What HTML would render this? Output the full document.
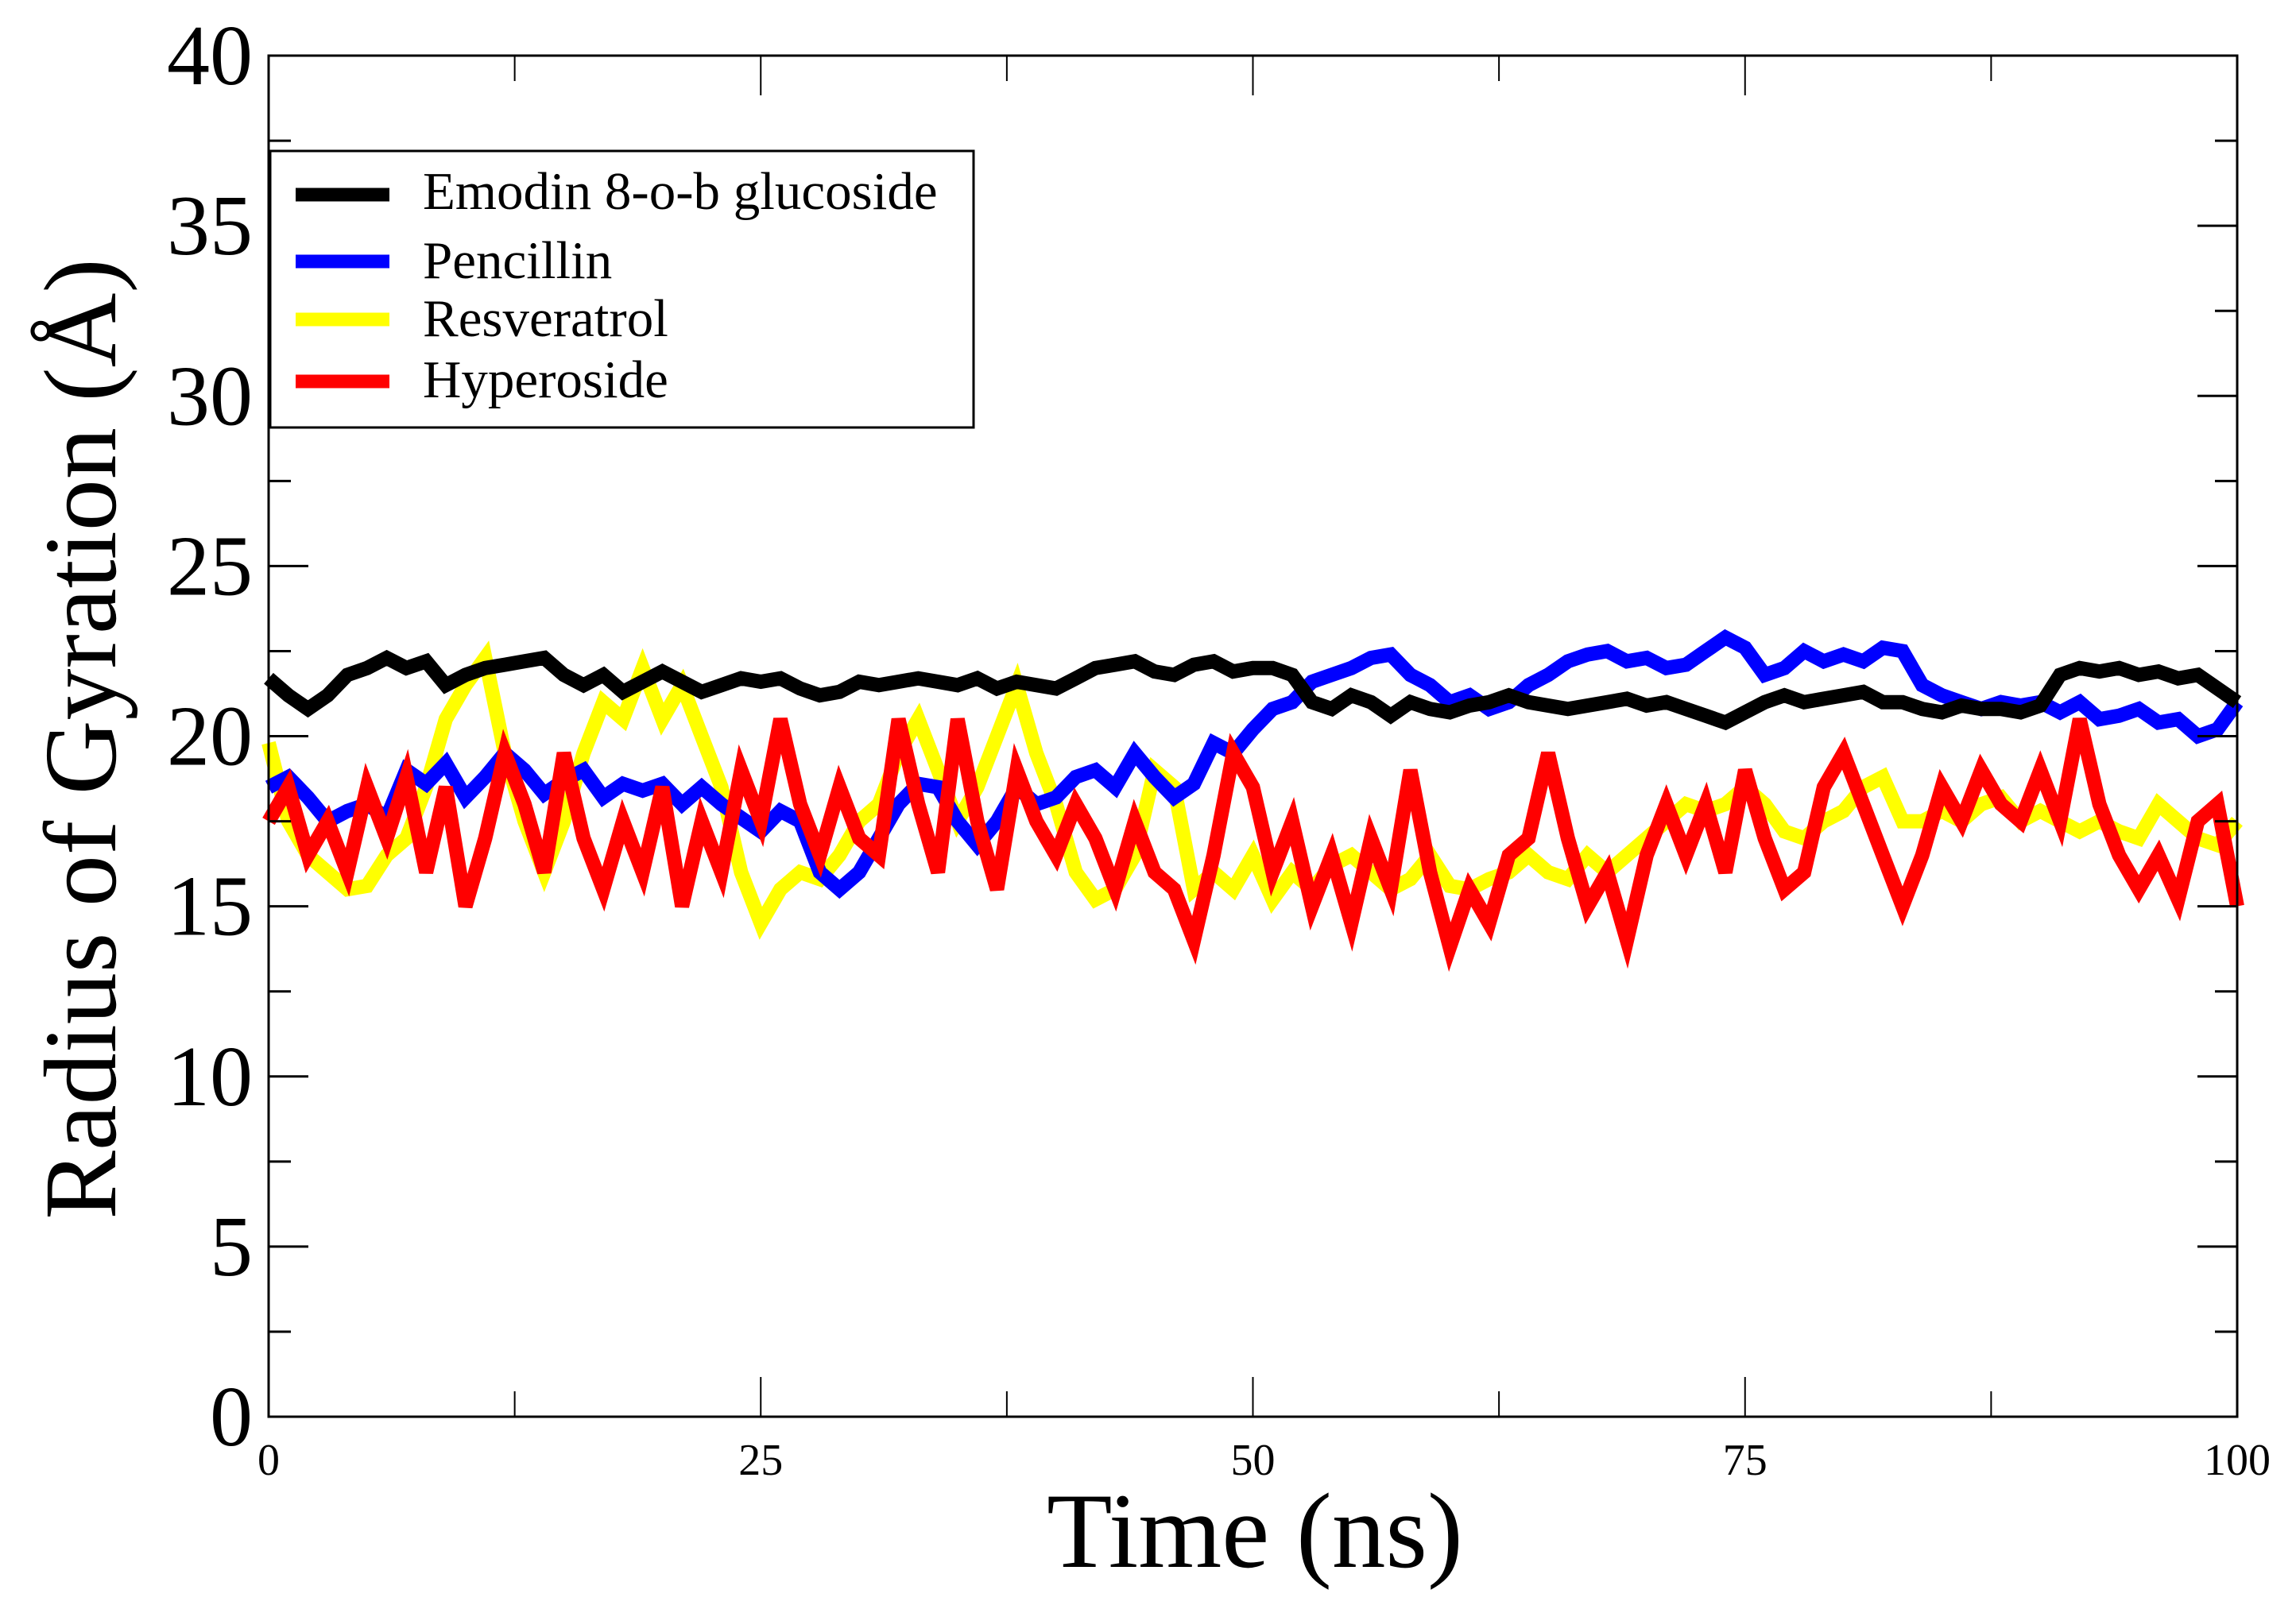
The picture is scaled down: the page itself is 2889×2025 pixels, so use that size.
<!DOCTYPE html>
<html><head><meta charset="utf-8"><style>
html,body{margin:0;padding:0;background:#fff;}
svg{display:block;font-family:"Liberation Serif",serif;}
</style></head><body>
<svg id="chart" width="2889" height="2025" viewBox="0 0 2889 2025" xmlns="http://www.w3.org/2000/svg">
<g id="series"></g>
<rect x="338" y="70" width="2477" height="1713" fill="none" stroke="#000" stroke-width="3"/>
<g id="axes"></g>
<text transform="translate(145,930) rotate(-90)" text-anchor="middle" font-size="130">Radius of Gyration (Å)</text>
<text x="1579" y="1972" text-anchor="middle" font-size="135">Time (ns)</text>
<g>
<rect x="340" y="190" width="885" height="348" fill="#fff" stroke="#000" stroke-width="3"/>
<line x1="372" y1="245" x2="490" y2="245" stroke="#000" stroke-width="17"/>
<text x="532" y="263" font-size="67">Emodin 8-o-b glucoside</text>
<line x1="372" y1="329" x2="490" y2="329" stroke="#0000ff" stroke-width="17"/>
<text x="532" y="350" font-size="67">Pencillin</text>
<line x1="372" y1="402" x2="490" y2="402" stroke="#ffff00" stroke-width="17"/>
<text x="532" y="423" font-size="67">Resveratrol</text>
<line x1="372" y1="480" x2="490" y2="480" stroke="#ff0000" stroke-width="17"/>
<text x="532" y="500" font-size="67">Hyperoside</text>
</g>
</svg>
<script>
const times = Array.from({length:101},(_,i)=>i);
const emodin = [21.7,21.2,20.8,21.2,21.8,22.0,22.3,22.0,22.2,21.5,21.8,22.0,22.1,22.2,22.3,21.8,21.5,21.8,21.3,21.6,21.9,21.6,21.3,21.5,21.7,21.6,21.7,21.4,21.2,21.3,21.6,21.5,21.6,21.7,21.6,21.5,21.7,21.4,21.6,21.5,21.4,21.7,22.0,22.1,22.2,21.9,21.8,22.1,22.2,21.9,22.0,22.0,21.8,21.0,20.8,21.2,21.0,20.6,21.0,20.8,20.7,20.9,21.0,21.2,21.0,20.9,20.8,20.9,21.0,21.1,20.9,21.0,20.8,20.6,20.4,20.7,21.0,21.2,21.0,21.1,21.2,21.3,21.0,21.0,20.8,20.7,20.9,20.8,20.8,20.7,20.9,21.8,22.0,21.9,22.0,21.8,21.9,21.7,21.8,21.4,21.0];
const pencillin = [18.5,18.8,18.2,17.5,17.8,18.0,17.6,19.0,18.6,19.2,18.2,18.8,19.5,19.0,18.3,18.7,19.0,18.2,18.6,18.4,18.6,18.0,18.5,18.0,17.6,17.2,17.8,17.5,16.0,15.5,16.0,17.0,18.0,18.6,18.5,17.5,16.8,17.5,18.5,18.0,18.2,18.8,19.0,18.5,19.5,18.8,18.2,18.6,19.8,19.5,20.2,20.8,21.0,21.6,21.8,22.0,22.3,22.4,21.8,21.5,21.0,21.2,20.8,21.0,21.5,21.8,22.2,22.4,22.5,22.2,22.3,22.0,22.1,22.5,22.9,22.6,21.8,22.0,22.5,22.2,22.4,22.2,22.6,22.5,21.5,21.2,21.0,20.8,21.0,20.9,21.0,20.7,21.0,20.5,20.6,20.8,20.4,20.5,20.0,20.2,21.0];
const resveratrol = [19.8,17.5,16.5,16.0,15.5,15.6,16.5,17.0,18.5,20.5,21.5,22.3,19.5,17.5,16.0,17.5,19.5,21.0,20.5,22.0,20.5,21.5,20.0,18.5,16.0,14.5,15.5,16.0,15.8,16.5,17.5,18.0,19.5,20.5,19.0,17.5,18.5,20.0,21.5,19.5,18.0,16.0,15.2,15.5,16.5,19.0,18.5,15.5,16.0,15.5,16.5,15.2,16.0,15.5,16.2,16.5,16.0,15.5,15.8,16.5,15.6,15.5,15.8,16.0,16.5,16.0,15.8,16.5,16.0,16.5,17.0,17.5,18.0,17.8,18.0,18.5,18.0,17.2,17.0,17.5,17.8,18.5,18.8,17.5,17.5,17.8,17.5,18.0,18.2,17.5,17.8,17.5,17.2,17.5,17.2,17.0,18.0,17.5,17.0,16.8,17.5];
const hyperoside = [17.5,18.5,16.5,17.5,16.0,18.5,17.0,18.8,16.0,18.5,15.0,17.0,19.5,18.0,16.0,19.5,17.0,15.5,17.5,16.0,18.5,15.0,17.5,16.0,19.0,17.5,20.5,18.0,16.5,18.5,17.0,16.5,20.5,18.0,16.0,20.5,17.5,15.5,19.0,17.5,16.5,18.0,17.0,15.5,17.5,16.0,15.5,14.0,16.5,19.5,18.5,16.0,17.5,15.0,16.5,14.5,17.0,15.5,19.0,16.0,13.8,15.5,14.5,16.5,17.0,19.5,17.0,15.0,16.0,14.0,16.5,18.0,16.5,18.0,16.0,19.0,17.0,15.5,16.0,18.5,19.5,18.0,16.5,15.0,16.5,18.5,17.5,19.0,18.0,17.5,19.0,17.5,20.5,18.0,16.5,15.5,16.5,15.2,17.5,18.0,15.0];
const xTickLabels = ["0","25","50","75","100"];
const yTickLabels = ["0","5","10","15","20","25","30","35","40"];

const X0=338,X1=2815,Y0=1783,Y1=70;
const xs = t => X0 + (t-0)/(100-0)*(X1-X0);
const ys = v => Y0 - (v-0)/(40-0)*(Y0-Y1);
const NS="http://www.w3.org/2000/svg";
const seriesG=document.getElementById('series');
const axesG=document.getElementById('axes');

function addLine(vals,color,name){
  const p=document.createElementNS(NS,'path');
  
  
  let d='';
  vals.forEach((v,i)=>{d+=(i?'L':'M')+xs(times[i]).toFixed(1)+','+ys(v).toFixed(1);});
  p.setAttribute('d',d);
  p.setAttribute('fill','none');
  p.setAttribute('stroke',color);
  p.setAttribute('stroke-width','18');
  p.setAttribute('stroke-linejoin','miter');
  seriesG.appendChild(p);
}
addLine(resveratrol,'#ffff00','series-resveratrol');
addLine(pencillin,'#0000ff','series-pencillin');
addLine(emodin,'#000000','series-emodin');
addLine(hyperoside,'#ff0000','series-hyperoside');

function mk(tag,attrs){const e=document.createElementNS(NS,tag);for(const k in attrs)e.setAttribute(k,attrs[k]);axesG.appendChild(e);return e;}
for(let i=0;i<=8;i++){
  const t=i*12.5, x=xs(t), major=i%2===0, L=major?50:32;
  const a=mk('line',{x1:x,y1:Y0,x2:x,y2:Y0-L,stroke:'#000','stroke-width':2});
  
  
  const b=mk('line',{x1:x,y1:Y1,x2:x,y2:Y1+L,stroke:'#000','stroke-width':2});
  
  
}
xTickLabels.forEach((lab,i)=>{
  const t=mk('text',{x:xs(Number(lab)),y:1856,'text-anchor':'middle','font-size':56});
  
  
  t.textContent=lab;
});
for(let i=0;i<=16;i++){
  const v=i*2.5, y=ys(v), major=i%2===0, L=major?50:28;
  const a=mk('line',{x1:X0,y1:y,x2:X0+L,y2:y,stroke:'#000','stroke-width':3});
  
  
  const b=mk('line',{x1:X1,y1:y,x2:X1-L,y2:y,stroke:'#000','stroke-width':3});
  
  
}
yTickLabels.forEach(lab=>{
  const t=mk('text',{x:318,y:ys(Number(lab))+36,'text-anchor':'end','font-size':108});
  
  
  t.textContent=lab;
});
</script>
</body></html>
